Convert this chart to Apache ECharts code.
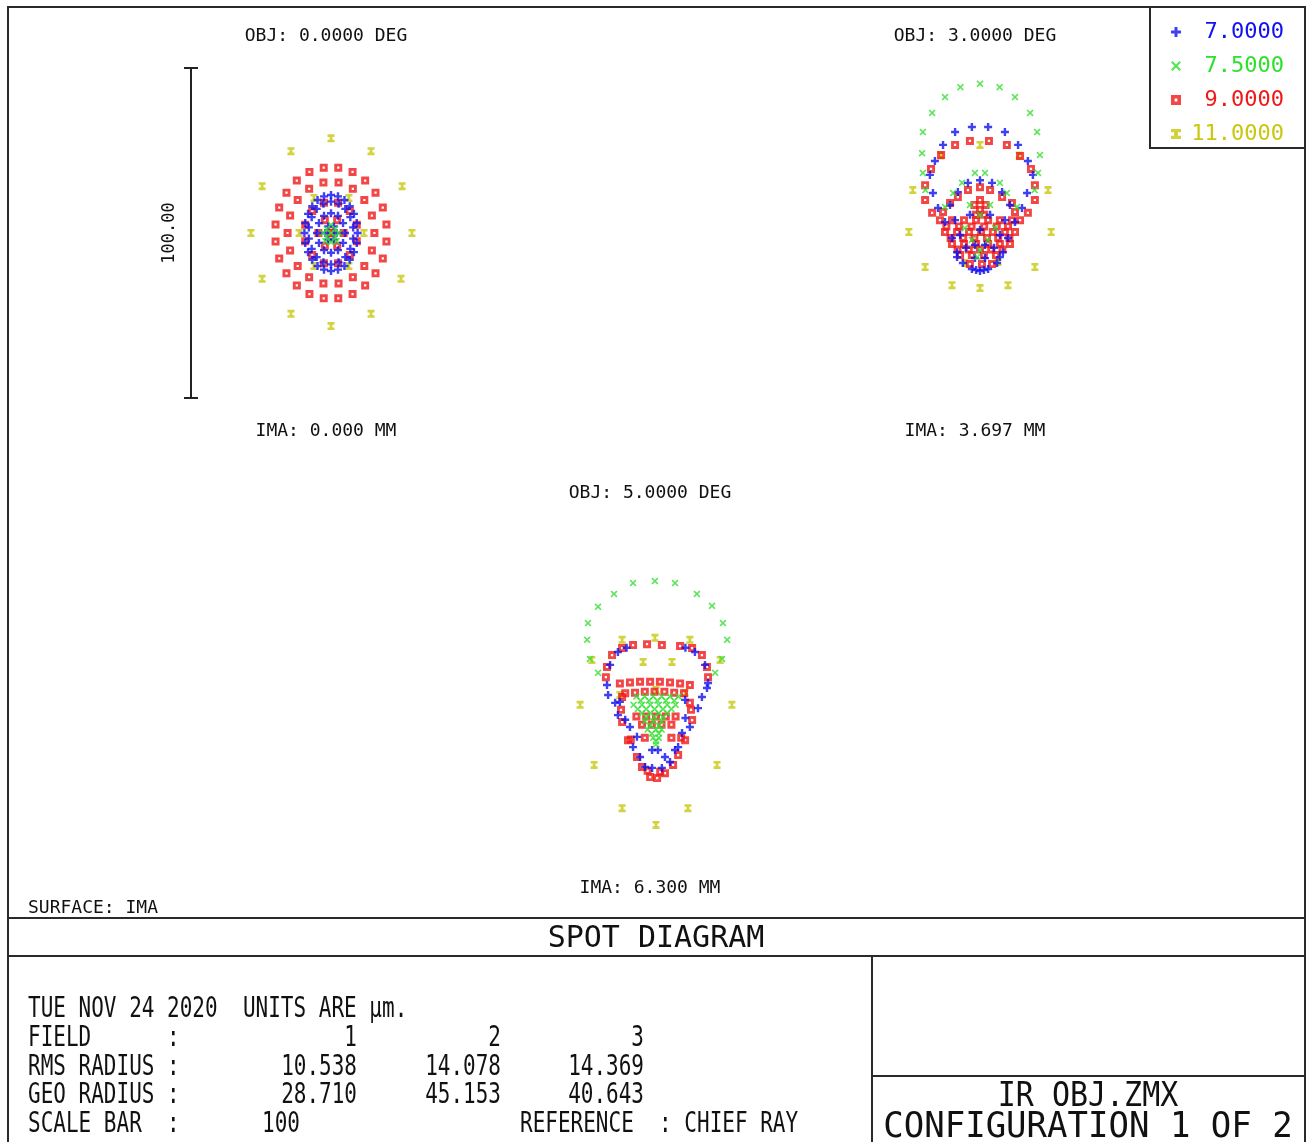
<!DOCTYPE html>
<html>
<head>
<meta charset="utf-8">
<script src="https://cdn.jsdelivr.net/npm/echarts@6/dist/echarts.min.js"></script>
<style>
  html, body { margin: 0; padding: 0; background: #fff; }
  #chart { width: 1312px; height: 1142px; }
</style>
</head>
<body>
<div id="chart"></div>
<script>
// Wavelengths (µm) and field information
const wavelengths = ['7.0000', '7.5000', '9.0000', '11.0000'];
const fieldObj = ['OBJ: 0.0000 DEG', 'OBJ: 3.0000 DEG', 'OBJ: 5.0000 DEG'];
const fieldIma = ['IMA: 0.000 MM', 'IMA: 3.697 MM', 'IMA: 6.300 MM'];
const fieldNo = ['1', '2', '3'];
const rmsRadius = ['10.538', '14.078', '14.369'];
const geoRadius = ['28.710', '45.153', '40.643'];
const scaleBar = '100';

// Ray intercepts relative to chief ray, µm [x, y]
// Field 1
const f1Blue = [
  [9.5,0],[9.2,3],[8.2,5.8],[6.7,8.1],[4.8,10],[2.5,11.1],[0,11.5],[-2.5,11.1],[-4.8,10],[-6.7,8.1],[-8.2,5.8],[-9.2,3],
  [-9.5,0],[-9.2,-3],[-8.2,-5.8],[-6.7,-8.1],[-4.8,-10],[-2.5,-11.1],[0,-11.5],[2.5,-11.1],[4.8,-10],[6.7,-8.1],[8.2,-5.8],[9.2,-3],
  [7.9,1.7],[6.9,4.8],[5.1,7.3],[2.7,8.9],[0,9.5],[-2.7,8.9],[-5.1,7.3],[-6.9,4.8],[-7.9,1.7],
  [-7.9,-1.7],[-6.9,-4.8],[-5.1,-7.3],[-2.7,-8.9],[0,-9.5],[2.7,-8.9],[5.1,-7.3],[6.9,-4.8],[7.9,-1.7],
  [5,0],[4.3,3],[2.5,5.2],[0,6],[-2.5,5.2],[-4.3,3],[-5,0],[-4.3,-3],[-2.5,-5.2],[0,-6],[2.5,-5.2],[4.3,-3],
  [2,0],[1,2],[-1,2],[-2,0],[-1,-2],[1,-2]
];
const f1Green = [
  [0,0],[1.5,1.2],[-1.5,1.2],[1.5,-1.2],[-1.5,-1.2],[0,2.5],[0,-2.8],[2.8,0],[-2.8,0],[2,-2.5],[-2,-2.5]
];
const f1Red = [
  [19.8,2.6],[18.5,7.7],[15.9,12.2],[12.2,15.9],[7.7,18.5],[2.6,19.8],[-2.6,19.8],[-7.7,18.5],[-12.2,15.9],[-15.9,12.2],[-18.5,7.7],[-19.8,2.6],
  [-19.8,-2.6],[-18.5,-7.7],[-15.9,-12.2],[-12.2,-15.9],[-7.7,-18.5],[-2.6,-19.8],[2.6,-19.8],[7.7,-18.5],[12.2,-15.9],[15.9,-12.2],[18.5,-7.7],[19.8,-2.6],
  [15.5,0],[14.6,5.3],[11.9,10],[7.8,13.4],[2.7,15.3],[-2.7,15.3],[-7.8,13.4],[-11.9,10],[-14.6,5.3],
  [-15.5,0],[-14.6,-5.3],[-11.9,-10],[-7.8,-13.4],[-2.7,-15.3],[2.7,-15.3],[7.8,-13.4],[11.9,-10],[14.6,-5.3],
  [9.2,2.5],[6.7,6.7],[2.5,9.2],[-2.5,9.2],[-6.7,6.7],[-9.2,2.5],[-9.2,-2.5],[-6.7,-6.7],[-2.5,-9.2],[2.5,-9.2],[6.7,-6.7],[9.2,-2.5],
  [4.5,0],[2.2,3.9],[-2.2,3.9],[-4.5,0],[-2.2,-3.9],[2.2,-3.9],[0,0]
];
const f1Yellow = [
  [0,28.7],[-14.3,24.8],[14.3,24.8],[-24.6,14.2],[25.4,14.2],[-28.6,0],[28.9,0],[-24.6,-13.9],[25,-13.9],[-14.3,-24.5],[14.3,-24.5],[0,-28.2],
  [-6.1,10.6],[6.4,10.6],[-11.4,0],[11.8,0],[-6.1,-10],[6.4,-10],[0,0.5],[0,-1.5]
];

// Field 2
const f2Blue = [
  [-8.9,30.6],[-2.9,32.1],[2.9,32.1],[8.9,30.6],[-13.2,26.7],[13.6,26.7],[-16.1,21.8],[17.1,21.8],[-17.9,17.6],[18.9,17.6],
  [-16.8,12.1],[16.8,12.1],[-15,7.6],[15,7.6],[-12.5,3.3],[12.5,3.3],[-10,-1.5],[10,-1.5],[-8.2,-5.8],[8.2,-5.8],
  [-6.1,-9.1],[6.1,-9.1],[-2.9,-10.9],[0,-11.5],[2.9,-10.9],[-1.4,-11.2],[1.4,-11.2],[-8.2,-7.3],[7.1,-7.3],
  [0,16],[-4.3,15.2],[4.3,15.2],[-7.9,12.4],[7.9,12.4],[-10.7,8.5],[10.7,8.5],[-8.9,3.9],[8.9,3.9],
  [-7.1,-0.6],[7.1,-0.6],[-5,-4.5],[5,-4.5],[-1.8,-7.6],[1.8,-7.6],[-3.6,5.5],[3.6,5.5],[0,1],[-1.8,-3.6],[1.8,-3.6]
];
const f2Green = [
  [0,45.2],[-7,44.2],[7,44.2],[-12.5,41.2],[12.5,41.2],[-17.1,36.4],[17.9,36.4],[-20.4,30.6],[20.4,30.6],
  [-20.7,24.2],[21.4,23.6],[-20.4,18.2],[20.7,18.2],[-19.5,13],[19.5,13],
  [-1.8,18.2],[1.8,18.2],[-6.4,15.2],[7.1,15.2],[-9.6,12.1],[9.6,12.1],[-12.5,7.9],[13.2,7.9],
  [-5.4,1.5],[5.4,1.5],[-2.9,-2.1],[2.9,-2.1],[0,-5.2],[0,5.5],[-3.6,8.5],[3.6,8.5],[-1,-7.3]
];
const f2Red = [
  [-8.9,26.7],[-3.6,27.9],[3.2,27.9],[9.6,26.7],[-13.9,23.6],[14.3,23.3],[-17.5,19.4],[18.2,19.4],
  [-19.6,14.5],[19.6,14.5],[-19.6,10],[19.6,10],[-17.1,6.1],[17.1,6.1],
  [-4.3,13],[0,13.9],[3.6,13],[-7.9,10.9],[7.9,10.9],[-10.7,9.1],[11.4,9.1],[-13.2,6.4],[12.5,6.4],
  [-14.3,3.9],[-10,3.9],[-5.7,3.9],[-1.4,3.9],[2.9,3.9],[7.1,3.9],[11.4,3.9],[14.3,3.9],
  [-12,2],[-7.5,2],[-3,2],[1.5,2],[6,2],[10,2],
  [-12.5,0.3],[-8.2,0.3],[-3.9,0.3],[0.4,0.3],[4.6,0.3],[8.9,0.3],[12.5,0.3],
  [-10.5,-1.5],[-6,-1.5],[-2,-1.5],[2.5,-1.5],[6.5,-1.5],[10.5,-1.5],
  [-10,-3.3],[-5.7,-3.3],[-1.4,-3.3],[2.9,-3.3],[7.1,-3.3],[10.7,-3.3],
  [-8,-5],[-4,-5],[0,-5],[4,-5],[8,-5],
  [-7.1,-6.7],[-2.9,-6.7],[1.4,-6.7],[5.7,-6.7],
  [-3.6,-9.4],[0.7,-9.4],[4.3,-9.4],
  [0,10],[0,7],[-2,8.5],[2,8.5],[-1.5,5.5],[1.5,5.5]
];
const f2Yellow = [
  [0,26.7],[-14,23.5],[14,23.5],[-24,13],[24.3,13],[-25.4,0.3],[25.4,0.3],[-19.6,-10.3],[19.6,-10.3],
  [-10,-15.8],[10,-15.8],[0,-16.7],[0,0.3],[-5.4,-9.1],[6.4,-8.8]
];

// Field 3
const f3Blue = [
  [-13.6,11.5],[13.9,11.5],[-16.4,7.6],[17.5,7.6],[-17.5,1.5],[18.6,2.1],[-17.1,-1.5],[-14.6,-3.9],[-13.6,-7.6],
  [-9.3,-11.2],[-6.8,-14.2],[-3.9,-23.3],[-1.4,-23.6],[2.1,-23.6],[5,-21.8],[6.8,-18.2],[9.3,-13],[12.1,-11.2],
  [15,-5.5],[16.4,-2.1],[18.2,0.6],[-8.2,-17.3],[-1.4,-18.2],[0.7,-18.2],[7.9,-17.3],[-5.7,-20.3],[3.2,-20.3],
  [-10.5,12.8],[10.5,12.8],[-12.9,-3.6],[10.4,-3],[-11,-9],[10.5,-8.5]
];
const f3Green = [
  [-8.2,32.4],[-0.4,33],[6.8,32.4],[-15,29.1],[14.6,29.1],[-20.7,25.2],[20,25.5],[-24.3,20.3],[23.9,20.3],
  [-24.6,15.2],[25.4,15.2],[-23.6,9.4],[23.6,9.4],[-20.7,5.2],[21.1,5.2],
  [-7,-2],[-4,-2],[-1,-2],[2,-2],[5,-2],[8,-2],[-8,-4.5],[-5,-4.5],[-2,-4.5],[1,-4.5],[4,-4.5],[7,-4.5],
  [-5,-7],[-2,-7],[1,-7],[4,-7],[-4,-9.5],[-1,-9.5],[2,-9.5],[-3,-12],[0,-12],[2,-12],[-1,-14.5],[1,-14.5],[0,-16.5],
  [-5.5,-3.2],[-2.5,-3.2],[0.5,-3.2],[3.5,-3.2],[6.5,-3.2],[-6.5,-5.8],[-3.5,-5.8],[-0.5,-5.8],[2.5,-5.8],[5.5,-5.8],
  [-3.5,-8.2],[-0.5,-8.2],[2.5,-8.2],[-2,-10.8],[1,-10.8],[-1.5,-13.2],[1,-13.2],[0,-15.5]
];
const f3Red = [
  [-12.1,12.7],[-8.2,13.6],[-3.2,13.9],[2.1,13.6],[8.6,13.3],[12.9,12.7],[-15.7,10.6],[16.4,10.6],[-17.5,7],[18.2,7],[-17.9,3.9],[18.6,3.9],
  [-12.1,-2.1],[12.1,-3.9],[-12.1,-9.7],[12.9,-9.1],[-10,-15.2],[10.4,-15.2],[-6.8,-20.3],[7.9,-19.7],
  [-5,-23.3],[6.1,-22.7],[-2.1,-26.4],[0.4,-26.7],[3.2,-25.2],[-3,-24.5],[1.5,-24.8],
  [-12.9,2],[-9.3,2.3],[-5.7,2.5],[-2.1,2.5],[1.4,2.5],[5,2.3],[8.6,2],[12.1,1.5],
  [-11,-1],[-7.5,-0.8],[-4,-0.5],[-0.5,-0.5],[3,-0.5],[6.5,-0.8],[10,-1],
  [-7,-8],[-3.5,-8],[0,-8],[3.5,-8],[7,-8],[-5,-10.5],[-1.5,-10.5],[2,-10.5],[5.5,-10.5],
  [-9,-15],[-4,-14.5],[5.5,-14.5],[9,-14.5],[-12.5,-6],[12.5,-6]
];
const f3Yellow = [
  [-27.1,-4.5],[27.1,-4.5],[-22.1,-22.7],[21.8,-22.7],[-12.1,-35.8],[11.4,-35.8],[0,-40.9],
  [-12.1,15.2],[-0.4,15.8],[12.1,15.2],[-4.6,8.5],[5.7,8.5],[-22.9,9.1],[22.9,9.1],[-12.9,-1.5],[10.4,-0.9],[0,0]
];

const colors = ['#1010f0', '#2ee02e', '#f01818', '#c8c810'];
const symbols = [
  'path://M3.5,0H6.5V3.5H10V6.5H6.5V10H3.5V6.5H0V3.5H3.5Z',
  'path://M1.6,0L5,3.4L8.4,0L10,1.6L6.6,5L10,8.4L8.4,10L5,6.6L1.6,10L0,8.4L3.4,5L0,1.6Z',
  'path://M0,0H10V10H0Z M3.6,3.6V6.4H6.4V3.6Z',
  'path://M0,0H8V2.6H5.6V5.4H8V8H0V5.4H2.4V2.6H0Z'
];
const symbolSizes = [8, 7, 8, [7, 8]];

const fields = [
  [f1Blue, f1Green, f1Red, f1Yellow],
  [f2Blue, f2Green, f2Red, f2Yellow],
  [f3Blue, f3Green, f3Red, f3Yellow]
];

// One plotting box per field, centred on the chief ray; 100 µm box
const boxes = [
  { left: 191, top: 68 },
  { left: 840, top: 68 },
  { left: 516, top: 525 }
];
const BOX_W = 280, BOX_H = 330;

const grids = boxes.map(b => ({ left: b.left, top: b.top, width: BOX_W, height: BOX_H }));
const xAxes = boxes.map((b, i) => ({
  type: 'value', gridIndex: i, min: -50, max: 50, show: false
}));
const yAxes = boxes.map((b, i) => ({
  type: 'value', gridIndex: i, min: -50, max: 50,
  show: i === 0,
  position: 'left',
  axisLine: {
    show: i === 0, onZero: false,
    lineStyle: { color: '#222', width: 2 },
    symbol: ['rect', 'rect'], symbolSize: [14, 2]
  },
  axisTick: { show: false },
  axisLabel: { show: false },
  splitLine: { show: false },
  name: i === 0 ? '100.00' : '',
  nameLocation: 'middle',
  nameRotate: 90,
  nameGap: 13,
  nameTextStyle: { fontFamily: 'DejaVu Sans Mono', fontSize: 17, color: '#111' }
}));

// Draw order: longest wavelength underneath
const drawOrder = [3, 2, 0, 1];
const series = [];
fields.forEach((wl, fi) => {
  drawOrder.forEach(wi => {
    series.push({
      type: 'scatter',
      name: wavelengths[wi],
      xAxisIndex: fi,
      yAxisIndex: fi,
      data: wl[wi],
      symbol: symbols[wi],
      symbolSize: symbolSizes[wi],
      itemStyle: { color: colors[wi] },
      emphasis: { disabled: true },
      silent: true
    });
  });
});

const mono = '"DejaVu Sans Mono", monospace';
function txt(x, y, text, size, align, opts) {
  opts = opts || {};
  return {
    type: 'text', x: x, y: y, scaleY: opts.sy || 1, silent: true,
    style: {
      text: text, font: size + 'px ' + mono, fill: opts.fill || '#111',
      align: align || 'left', verticalAlign: 'middle'
    }
  };
}
function line(x1, y1, x2, y2, w) {
  return {
    type: 'line', silent: true,
    shape: { x1: x1, y1: y1, x2: x2, y2: y2 },
    style: { stroke: '#2a2a2a', lineWidth: w || 2 }
  };
}

const labelCenters = [[326, 36, 431], [975, 36, 431], [650, 493, 888]];
const graphics = [
  // outer frame and text panels
  { type: 'rect', silent: true, shape: { x: 8, y: 7, width: 1297, height: 1145 }, style: { fill: null, stroke: '#2a2a2a', lineWidth: 2 } },
  { type: 'rect', silent: true, shape: { x: 1150, y: 7, width: 155, height: 141 }, style: { fill: null, stroke: '#2a2a2a', lineWidth: 2 } },
  line(8, 918, 1305, 918),
  line(8, 956, 1305, 956),
  line(872, 956, 872, 1142),
  line(872, 1076, 1305, 1076),
  txt(28, 908, 'SURFACE: IMA', 18, 'left'),
  txt(656, 939, 'SPOT DIAGRAM', 30, 'center'),
  txt(1088, 1097, 'IR OBJ.ZMX', 30, 'center', { sy: 1.1 }),
  txt(1088, 1128, 'CONFIGURATION 1 OF 2', 34, 'center', { sy: 1.05 })
];
labelCenters.forEach((c, i) => {
  graphics.push(txt(c[0], c[1], fieldObj[i], 18, 'center'));
  graphics.push(txt(c[0], c[2], fieldIma[i], 18, 'center'));
});

// Summary table
const rowY = [1010, 1039, 1068, 1096, 1125];
const colRight = [357, 501, 644];
const sy = 1.35;
graphics.push(txt(28, rowY[0], 'TUE NOV 24 2020  UNITS ARE \u00b5m.', 21, 'left', { sy: sy }));
graphics.push(txt(28, rowY[1], 'FIELD      :', 21, 'left', { sy: sy }));
graphics.push(txt(28, rowY[2], 'RMS RADIUS :', 21, 'left', { sy: sy }));
graphics.push(txt(28, rowY[3], 'GEO RADIUS :', 21, 'left', { sy: sy }));
graphics.push(txt(28, rowY[4], 'SCALE BAR  :', 21, 'left', { sy: sy }));
colRight.forEach((x, i) => {
  graphics.push(txt(x, rowY[1], fieldNo[i], 21, 'right', { sy: sy }));
  graphics.push(txt(x, rowY[2], rmsRadius[i], 21, 'right', { sy: sy }));
  graphics.push(txt(x, rowY[3], geoRadius[i], 21, 'right', { sy: sy }));
});
graphics.push(txt(262, rowY[4], scaleBar, 21, 'left', { sy: sy }));
graphics.push(txt(520, rowY[4], 'REFERENCE  : CHIEF RAY', 21, 'left', { sy: sy }));

const chart = echarts.init(document.getElementById('chart'), null, { renderer: 'canvas' });
chart.setOption({
  backgroundColor: '#ffffff',
  animation: false,
  grid: grids,
  xAxis: xAxes,
  yAxis: yAxes,
  legend: {
    orient: 'vertical',
    left: 1166,
    top: 16,
    itemWidth: 10,
    itemHeight: 10,
    itemGap: 12,
    selectedMode: false,
    data: wavelengths.map((w, i) => ({
      name: w,
      textStyle: { color: colors[i] }
    })),
    formatter: name => '{v|' + name + '}',
    textStyle: {
      fontFamily: mono,
      fontSize: 22,
      lineHeight: 22,
      rich: { v: { width: 98, align: 'right', fontFamily: mono, fontSize: 22 } }
    }
  },
  series: series,
  graphic: graphics
});
</script>
</body>
</html>
